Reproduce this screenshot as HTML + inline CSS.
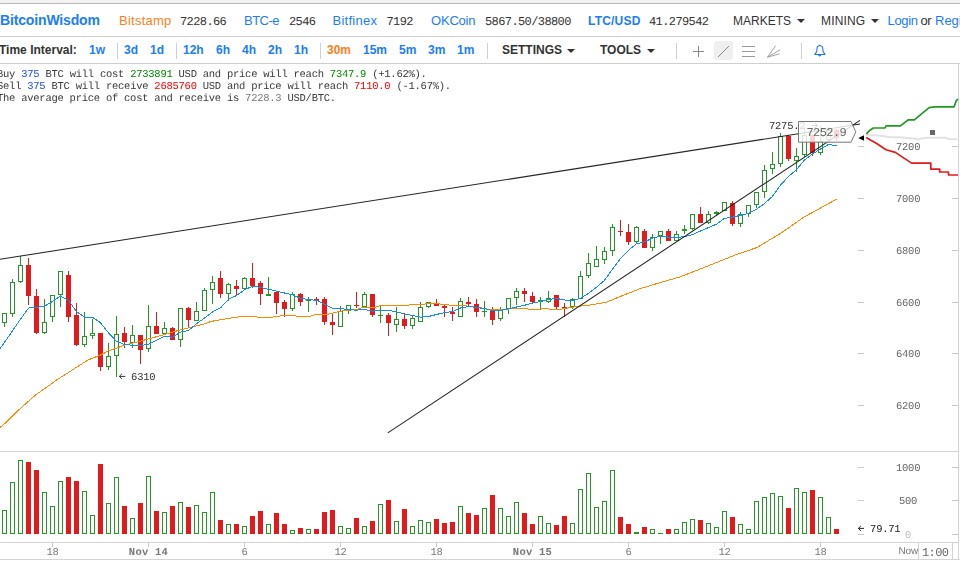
<!DOCTYPE html>
<html><head><meta charset="utf-8"><title>BitcoinWisdom</title>
<style>
html,body{margin:0;padding:0;background:#fff;}
body{width:960px;height:564px;overflow:hidden;position:relative;font-family:"Liberation Sans",sans-serif;}
.t{position:absolute;white-space:nowrap;line-height:1;}
.s13{font-size:13px;}
.s12{font-size:12px;}
.b{font-weight:bold;}
.bl{color:#1a7cff;}
.or{color:#ff7f1a;}
.dk{color:#333;}
.m{font-family:"Liberation Mono",monospace;}
.m11{font-family:"Liberation Mono",monospace;font-size:12px;letter-spacing:-0.6px;color:#333;text-rendering:geometricPrecision;}
.m10{font-family:"Liberation Mono",monospace;font-size:10.5px;letter-spacing:-0.25px;text-rendering:geometricPrecision;}
.sep{position:absolute;width:1px;background:#d0d0d0;top:43px;height:16px;}
.caret{position:absolute;width:0;height:0;border-left:4px solid transparent;border-right:4px solid transparent;border-top:4px solid #333;}
.hl{position:absolute;left:0;width:960px;height:1px;}
</style></head><body>
<div style="position:absolute;left:0;top:0;width:960px;height:3px;background:#f2f2f2"></div>
<div class="hl" style="top:3px;background:#b9b9b9"></div>
<div class="hl" style="top:36px;background:#cfcfcf"></div>
<div class="hl" style="top:63px;background:#cfcfcf"></div>

<!-- header row 1 -->
<span class="t b bl" style="left:0px;top:13px;font-size:14px;letter-spacing:-0.15px;">BitcoinWisdom</span>
<span class="t s13 or" style="left:119px;top:14px;letter-spacing:0.25px;">Bitstamp</span>
<span class="t m11" style="left:180px;top:16px;">7228.66</span>
<span class="t s13 bl" style="left:244px;top:14px;letter-spacing:-0.5px;">BTC-e</span>
<span class="t m11" style="left:289px;top:16px;">2546</span>
<span class="t s13 bl" style="left:332.5px;top:14px;letter-spacing:0.25px;">Bitfinex</span>
<span class="t m11" style="left:386.5px;top:16px;">7192</span>
<span class="t s13 bl" style="left:431px;top:14px;letter-spacing:-0.2px;">OKCoin</span>
<span class="t m11" style="left:485px;top:16px;">5867.50/38800</span>
<span class="t s12 b bl" style="left:588px;top:15px;letter-spacing:0.2px;">LTC/USD</span>
<span class="t m11" style="left:649px;top:16px;">41.279542</span>
<span class="t s12 dk" style="left:733px;top:15px;">MARKETS</span>
<div class="caret" style="left:796.7px;top:19px;"></div>
<span class="t s12 dk" style="left:821px;top:15px;letter-spacing:0.15px;">MINING</span>
<div class="caret" style="left:870.8px;top:19px;"></div>
<span class="t s13 bl" style="left:887.5px;top:14px;letter-spacing:-0.35px;">Login</span>
<span class="t s13 dk" style="left:920.5px;top:14px;letter-spacing:-0.5px;">or</span>
<span class="t s13 bl" style="left:935px;top:14px;">Register</span>

<!-- header row 2 -->
<span class="t s12 b dk" style="left:-1px;top:44px;">Time Interval:</span>
<span class="t s12 b bl" style="left:89px;top:44px;">1w</span>
<div class="sep" style="left:117px;"></div>
<span class="t s12 b bl" style="left:124px;top:44px;">3d</span>
<span class="t s12 b bl" style="left:150px;top:44px;">1d</span>
<div class="sep" style="left:176px;"></div>
<span class="t s12 b bl" style="left:183px;top:44px;">12h</span>
<span class="t s12 b bl" style="left:216px;top:44px;">6h</span>
<span class="t s12 b bl" style="left:242px;top:44px;">4h</span>
<span class="t s12 b bl" style="left:268px;top:44px;">2h</span>
<span class="t s12 b bl" style="left:294px;top:44px;">1h</span>
<div class="sep" style="left:320px;"></div>
<span class="t s12 b or" style="left:327px;top:44px;">30m</span>
<span class="t s12 b bl" style="left:363px;top:44px;">15m</span>
<span class="t s12 b bl" style="left:399px;top:44px;">5m</span>
<span class="t s12 b bl" style="left:428px;top:44px;">3m</span>
<span class="t s12 b bl" style="left:457px;top:44px;">1m</span>
<div class="sep" style="left:487px;"></div>
<span class="t s12 b dk" style="left:502px;top:44px;">SETTINGS</span>
<div class="caret" style="left:566.7px;top:49px;"></div>
<span class="t s12 b dk" style="left:600px;top:44px;">TOOLS</span>
<div class="caret" style="left:646.7px;top:49px;"></div>
<div class="sep" style="left:676px;"></div>
<div style="position:absolute;left:714px;top:41px;width:19px;height:19px;background:#efefef;border-radius:3px;"></div>
<svg width="120" height="24" viewBox="690 40 120 24" style="position:absolute;left:690px;top:40px;" fill="none" stroke="#888" stroke-width="1">
<path d="M698.5 46V57M693 51.5H704"/>
<path d="M718 57L729 46"/>
<path d="M742 46.5H755M742 51.5H755M742 56.5H755" stroke="#999"/>
<path d="M767.5 57.2L775.8 45.5M767.5 57.2L780.2 49.8M767.5 57.2L779.5 53.8" stroke="#999" stroke-width="0.9"/>
</svg>
<div class="sep" style="left:801px;"></div>
<svg width="16" height="18" viewBox="812 42 16 18" style="position:absolute;left:812px;top:42px;" fill="none" stroke="#1f6fff" stroke-width="1.05" stroke-linejoin="round">
<path d="M814.8 54.4L816.7 51.6L817.1 47.6Q817.3 46.2 819 45.8L819.7 45.1L820.4 45.8Q822.5 46.2 822.7 47.6L823.1 51.6L825 54.4Z"/>
<path d="M818.3 55.2Q819.7 57.4 821.1 55.2Z" fill="#1f6fff" stroke-width="0.6"/>
</svg>
<svg width="960" height="564" viewBox="0 0 960 564" style="position:absolute;left:0;top:0">
<g stroke="#d4d4d4" stroke-width="1" fill="none">
<path d="M0 451.5H958"/>
<path d="M0 542.5H958"/>
<path d="M0 559.5H960"/>
<path d="M958.5 64V560"/>
<path d="M918.5 542.5V559.5M952.5 542.5V559.5"/>
</g>
<g stroke="#c8c8c8" stroke-width="1">
<path d="M858 146.5H864M952 146.5H958"/>
<path d="M858 198.5H864M952 198.5H958"/>
<path d="M858 250.5H864M952 250.5H958"/>
<path d="M858 302.5H864M952 302.5H958"/>
<path d="M858 353.5H864M952 353.5H958"/>
<path d="M858 405.5H864M952 405.5H958"/>
<path d="M858 467.5H864M952 467.5H958"/>
<path d="M858 500.5H864M952 500.5H958"/>
<path d="M858 534.5H864M952 534.5H958"/>
<path d="M52.5 543V547"/>
<path d="M148.5 543V547"/>
<path d="M244.5 543V547"/>
<path d="M340.5 543V547"/>
<path d="M436.5 543V547"/>
<path d="M532.5 543V547"/>
<path d="M628.5 543V547"/>
<path d="M724.5 543V547"/>
<path d="M820.5 543V547"/>
</g>
<g shape-rendering="crispEdges">
<rect x="2" y="510" width="5" height="24" fill="#229922"/><rect x="3" y="511" width="3" height="22" fill="#fff"/>
<rect x="10" y="482" width="5" height="52" fill="#229922"/><rect x="11" y="483" width="3" height="50" fill="#fff"/>
<rect x="18" y="460" width="5" height="74" fill="#229922"/><rect x="19" y="461" width="3" height="72" fill="#fff"/>
<rect x="26" y="462" width="5" height="72" fill="#e21a1c"/>
<rect x="34" y="470" width="5" height="64" fill="#e21a1c"/>
<rect x="42" y="492" width="5" height="42" fill="#229922"/><rect x="43" y="493" width="3" height="40" fill="#fff"/>
<rect x="50" y="506" width="5" height="28" fill="#229922"/><rect x="51" y="507" width="3" height="26" fill="#fff"/>
<rect x="58" y="481" width="5" height="53" fill="#229922"/><rect x="59" y="482" width="3" height="51" fill="#fff"/>
<rect x="66" y="477" width="5" height="57" fill="#e21a1c"/>
<rect x="74" y="481" width="5" height="53" fill="#e21a1c"/>
<rect x="82" y="491" width="5" height="43" fill="#229922"/><rect x="83" y="492" width="3" height="41" fill="#fff"/>
<rect x="90" y="515" width="5" height="19" fill="#229922"/><rect x="91" y="516" width="3" height="17" fill="#fff"/>
<rect x="98" y="464" width="5" height="70" fill="#e21a1c"/>
<rect x="106" y="503" width="5" height="31" fill="#229922"/><rect x="107" y="504" width="3" height="29" fill="#fff"/>
<rect x="114" y="477" width="5" height="57" fill="#229922"/><rect x="115" y="478" width="3" height="55" fill="#fff"/>
<rect x="122" y="506" width="5" height="28" fill="#e21a1c"/>
<rect x="130" y="518" width="5" height="16" fill="#229922"/><rect x="131" y="519" width="3" height="14" fill="#fff"/>
<rect x="138" y="503" width="5" height="31" fill="#e21a1c"/>
<rect x="146" y="476" width="5" height="58" fill="#229922"/><rect x="147" y="477" width="3" height="56" fill="#fff"/>
<rect x="154" y="511" width="5" height="23" fill="#e21a1c"/>
<rect x="162" y="512" width="5" height="22" fill="#229922"/><rect x="163" y="513" width="3" height="20" fill="#fff"/>
<rect x="170" y="506" width="5" height="28" fill="#e21a1c"/>
<rect x="178" y="502" width="5" height="32" fill="#229922"/><rect x="179" y="503" width="3" height="30" fill="#fff"/>
<rect x="186" y="507" width="5" height="27" fill="#e21a1c"/>
<rect x="194" y="505" width="5" height="29" fill="#229922"/><rect x="195" y="506" width="3" height="27" fill="#fff"/>
<rect x="202" y="512" width="5" height="22" fill="#229922"/><rect x="203" y="513" width="3" height="20" fill="#fff"/>
<rect x="210" y="492" width="5" height="42" fill="#229922"/><rect x="211" y="493" width="3" height="40" fill="#fff"/>
<rect x="218" y="520" width="5" height="14" fill="#e21a1c"/>
<rect x="226" y="524" width="5" height="10" fill="#229922"/><rect x="227" y="525" width="3" height="8" fill="#fff"/>
<rect x="234" y="524" width="5" height="10" fill="#e21a1c"/>
<rect x="242" y="526" width="5" height="8" fill="#229922"/><rect x="243" y="527" width="3" height="6" fill="#fff"/>
<rect x="250" y="516" width="5" height="18" fill="#e21a1c"/>
<rect x="258" y="511" width="5" height="23" fill="#e21a1c"/>
<rect x="266" y="524" width="5" height="10" fill="#229922"/><rect x="267" y="525" width="3" height="8" fill="#fff"/>
<rect x="274" y="513" width="5" height="21" fill="#e21a1c"/>
<rect x="282" y="524" width="5" height="10" fill="#e21a1c"/>
<rect x="290" y="530" width="5" height="4" fill="#229922"/><rect x="291" y="531" width="3" height="2" fill="#fff"/>
<rect x="298" y="528" width="5" height="6" fill="#e21a1c"/>
<rect x="306" y="529" width="5" height="5" fill="#229922"/><rect x="307" y="530" width="3" height="3" fill="#fff"/>
<rect x="314" y="529" width="5" height="5" fill="#e21a1c"/>
<rect x="322" y="512" width="5" height="22" fill="#e21a1c"/>
<rect x="330" y="510" width="5" height="24" fill="#e21a1c"/>
<rect x="338" y="526" width="5" height="8" fill="#229922"/><rect x="339" y="527" width="3" height="6" fill="#fff"/>
<rect x="346" y="528" width="5" height="6" fill="#229922"/><rect x="347" y="529" width="3" height="4" fill="#fff"/>
<rect x="354" y="518" width="5" height="16" fill="#e21a1c"/>
<rect x="362" y="526" width="5" height="8" fill="#229922"/><rect x="363" y="527" width="3" height="6" fill="#fff"/>
<rect x="370" y="521" width="5" height="13" fill="#e21a1c"/>
<rect x="378" y="504" width="5" height="30" fill="#229922"/><rect x="379" y="505" width="3" height="28" fill="#fff"/>
<rect x="386" y="500" width="5" height="34" fill="#e21a1c"/>
<rect x="394" y="521" width="5" height="13" fill="#229922"/><rect x="395" y="522" width="3" height="11" fill="#fff"/>
<rect x="402" y="509" width="5" height="25" fill="#e21a1c"/>
<rect x="410" y="526" width="5" height="8" fill="#229922"/><rect x="411" y="527" width="3" height="6" fill="#fff"/>
<rect x="418" y="520" width="5" height="14" fill="#229922"/><rect x="419" y="521" width="3" height="12" fill="#fff"/>
<rect x="426" y="522" width="5" height="12" fill="#229922"/><rect x="427" y="523" width="3" height="10" fill="#fff"/>
<rect x="434" y="519" width="5" height="15" fill="#e21a1c"/>
<rect x="442" y="523" width="5" height="11" fill="#e21a1c"/>
<rect x="450" y="522" width="5" height="12" fill="#e21a1c"/>
<rect x="458" y="506" width="5" height="28" fill="#229922"/><rect x="459" y="507" width="3" height="26" fill="#fff"/>
<rect x="466" y="513" width="5" height="21" fill="#e21a1c"/>
<rect x="474" y="515" width="5" height="19" fill="#e21a1c"/>
<rect x="482" y="508" width="5" height="26" fill="#229922"/><rect x="483" y="509" width="3" height="24" fill="#fff"/>
<rect x="490" y="495" width="5" height="39" fill="#e21a1c"/>
<rect x="498" y="508" width="5" height="26" fill="#229922"/><rect x="499" y="509" width="3" height="24" fill="#fff"/>
<rect x="506" y="516" width="5" height="18" fill="#229922"/><rect x="507" y="517" width="3" height="16" fill="#fff"/>
<rect x="514" y="502" width="5" height="32" fill="#229922"/><rect x="515" y="503" width="3" height="30" fill="#fff"/>
<rect x="522" y="513" width="5" height="21" fill="#e21a1c"/>
<rect x="530" y="524" width="5" height="10" fill="#e21a1c"/>
<rect x="538" y="516" width="5" height="18" fill="#229922"/><rect x="539" y="517" width="3" height="16" fill="#fff"/>
<rect x="546" y="523" width="5" height="11" fill="#229922"/><rect x="547" y="524" width="3" height="9" fill="#fff"/>
<rect x="554" y="525" width="5" height="9" fill="#e21a1c"/>
<rect x="562" y="516" width="5" height="18" fill="#e21a1c"/>
<rect x="570" y="523" width="5" height="11" fill="#229922"/><rect x="571" y="524" width="3" height="9" fill="#fff"/>
<rect x="578" y="489" width="5" height="45" fill="#229922"/><rect x="579" y="490" width="3" height="43" fill="#fff"/>
<rect x="586" y="473" width="5" height="61" fill="#229922"/><rect x="587" y="474" width="3" height="59" fill="#fff"/>
<rect x="594" y="507" width="5" height="27" fill="#229922"/><rect x="595" y="508" width="3" height="25" fill="#fff"/>
<rect x="602" y="501" width="5" height="33" fill="#229922"/><rect x="603" y="502" width="3" height="31" fill="#fff"/>
<rect x="610" y="470" width="5" height="64" fill="#229922"/><rect x="611" y="471" width="3" height="62" fill="#fff"/>
<rect x="618" y="517" width="5" height="17" fill="#e21a1c"/>
<rect x="626" y="524" width="5" height="10" fill="#e21a1c"/>
<rect x="634" y="532" width="5" height="2" fill="#229922"/>
<rect x="642" y="527" width="5" height="7" fill="#e21a1c"/>
<rect x="650" y="529" width="5" height="5" fill="#229922"/><rect x="651" y="530" width="3" height="3" fill="#fff"/>
<rect x="658" y="533" width="5" height="1" fill="#229922"/>
<rect x="666" y="529" width="5" height="5" fill="#e21a1c"/>
<rect x="674" y="529" width="5" height="5" fill="#229922"/><rect x="675" y="530" width="3" height="3" fill="#fff"/>
<rect x="682" y="522" width="5" height="12" fill="#229922"/><rect x="683" y="523" width="3" height="10" fill="#fff"/>
<rect x="690" y="519" width="5" height="15" fill="#229922"/><rect x="691" y="520" width="3" height="13" fill="#fff"/>
<rect x="698" y="520" width="5" height="14" fill="#e21a1c"/>
<rect x="706" y="523" width="5" height="11" fill="#229922"/><rect x="707" y="524" width="3" height="9" fill="#fff"/>
<rect x="714" y="527" width="5" height="7" fill="#229922"/><rect x="715" y="528" width="3" height="5" fill="#fff"/>
<rect x="722" y="511" width="5" height="23" fill="#229922"/><rect x="723" y="512" width="3" height="21" fill="#fff"/>
<rect x="730" y="517" width="5" height="17" fill="#e21a1c"/>
<rect x="738" y="524" width="5" height="10" fill="#229922"/><rect x="739" y="525" width="3" height="8" fill="#fff"/>
<rect x="746" y="529" width="5" height="5" fill="#229922"/><rect x="747" y="530" width="3" height="3" fill="#fff"/>
<rect x="754" y="501" width="5" height="33" fill="#229922"/><rect x="755" y="502" width="3" height="31" fill="#fff"/>
<rect x="762" y="497" width="5" height="37" fill="#229922"/><rect x="763" y="498" width="3" height="35" fill="#fff"/>
<rect x="770" y="493" width="5" height="41" fill="#229922"/><rect x="771" y="494" width="3" height="39" fill="#fff"/>
<rect x="778" y="496" width="5" height="38" fill="#229922"/><rect x="779" y="497" width="3" height="36" fill="#fff"/>
<rect x="786" y="508" width="5" height="26" fill="#e21a1c"/>
<rect x="794" y="488" width="5" height="46" fill="#229922"/><rect x="795" y="489" width="3" height="44" fill="#fff"/>
<rect x="802" y="492" width="5" height="42" fill="#229922"/><rect x="803" y="493" width="3" height="40" fill="#fff"/>
<rect x="810" y="490" width="5" height="44" fill="#e21a1c"/>
<rect x="818" y="497" width="5" height="37" fill="#229922"/><rect x="819" y="498" width="3" height="35" fill="#fff"/>
<rect x="826" y="517" width="5" height="17" fill="#229922"/><rect x="827" y="518" width="3" height="15" fill="#fff"/>
<rect x="834" y="529" width="5" height="5" fill="#e21a1c"/>
</g>
<g shape-rendering="crispEdges">
<rect x="4" y="323" width="1" height="4" fill="#229922"/><rect x="2" y="313" width="5" height="10" fill="#229922"/><rect x="3" y="314" width="3" height="8" fill="#fff"/>
<rect x="12" y="279" width="1" height="3" fill="#229922"/><rect x="12" y="314" width="1" height="3" fill="#229922"/><rect x="10" y="282" width="5" height="32" fill="#229922"/><rect x="11" y="283" width="3" height="30" fill="#fff"/>
<rect x="20" y="256" width="1" height="9" fill="#229922"/><rect x="20" y="282" width="1" height="1" fill="#229922"/><rect x="18" y="265" width="5" height="17" fill="#229922"/><rect x="19" y="266" width="3" height="15" fill="#fff"/>
<rect x="28" y="258" width="1" height="47" fill="#e21a1c"/><rect x="26" y="265" width="5" height="31" fill="#e21a1c"/>
<rect x="36" y="289" width="1" height="45" fill="#e21a1c"/><rect x="34" y="296" width="5" height="37" fill="#e21a1c"/>
<rect x="44" y="299" width="1" height="23" fill="#229922"/><rect x="44" y="333" width="1" height="1" fill="#229922"/><rect x="42" y="322" width="5" height="11" fill="#229922"/><rect x="43" y="323" width="3" height="9" fill="#fff"/>
<rect x="52" y="317" width="1" height="5" fill="#229922"/><rect x="50" y="295" width="5" height="22" fill="#229922"/><rect x="51" y="296" width="3" height="20" fill="#fff"/>
<rect x="60" y="295" width="1" height="12" fill="#229922"/><rect x="58" y="271" width="5" height="24" fill="#229922"/><rect x="59" y="272" width="3" height="22" fill="#fff"/>
<rect x="68" y="271" width="1" height="51" fill="#e21a1c"/><rect x="66" y="275" width="5" height="42" fill="#e21a1c"/>
<rect x="76" y="303" width="1" height="43" fill="#e21a1c"/><rect x="74" y="315" width="5" height="30" fill="#e21a1c"/>
<rect x="84" y="312" width="1" height="24" fill="#229922"/><rect x="84" y="345" width="1" height="2" fill="#229922"/><rect x="82" y="336" width="5" height="9" fill="#229922"/><rect x="83" y="337" width="3" height="7" fill="#fff"/>
<rect x="92" y="319" width="1" height="14" fill="#229922"/><rect x="92" y="336" width="1" height="3" fill="#229922"/><rect x="90" y="333" width="5" height="3" fill="#229922"/><rect x="91" y="334" width="3" height="1" fill="#fff"/>
<rect x="100" y="333" width="1" height="38" fill="#e21a1c"/><rect x="98" y="333" width="5" height="34" fill="#e21a1c"/>
<rect x="108" y="343" width="1" height="13" fill="#229922"/><rect x="108" y="367" width="1" height="3" fill="#229922"/><rect x="106" y="356" width="5" height="11" fill="#229922"/><rect x="107" y="357" width="3" height="9" fill="#fff"/>
<rect x="116" y="316" width="1" height="18" fill="#229922"/><rect x="116" y="356" width="1" height="21" fill="#229922"/><rect x="114" y="334" width="5" height="22" fill="#229922"/><rect x="115" y="335" width="3" height="20" fill="#fff"/>
<rect x="124" y="327" width="1" height="21" fill="#e21a1c"/><rect x="122" y="333" width="5" height="9" fill="#e21a1c"/>
<rect x="132" y="325" width="1" height="10" fill="#229922"/><rect x="132" y="343" width="1" height="5" fill="#229922"/><rect x="130" y="335" width="5" height="8" fill="#229922"/><rect x="131" y="336" width="3" height="6" fill="#fff"/>
<rect x="140" y="335" width="1" height="29" fill="#e21a1c"/><rect x="138" y="335" width="5" height="15" fill="#e21a1c"/>
<rect x="148" y="305" width="1" height="21" fill="#229922"/><rect x="148" y="349" width="1" height="3" fill="#229922"/><rect x="146" y="326" width="5" height="23" fill="#229922"/><rect x="147" y="327" width="3" height="21" fill="#fff"/>
<rect x="156" y="312" width="1" height="22" fill="#e21a1c"/><rect x="154" y="326" width="5" height="8" fill="#e21a1c"/>
<rect x="164" y="322" width="1" height="6" fill="#229922"/><rect x="162" y="328" width="5" height="6" fill="#229922"/><rect x="163" y="329" width="3" height="4" fill="#fff"/>
<rect x="172" y="327" width="1" height="13" fill="#e21a1c"/><rect x="170" y="328" width="5" height="12" fill="#e21a1c"/>
<rect x="180" y="340" width="1" height="7" fill="#229922"/><rect x="178" y="308" width="5" height="32" fill="#229922"/><rect x="179" y="309" width="3" height="30" fill="#fff"/>
<rect x="188" y="307" width="1" height="21" fill="#e21a1c"/><rect x="186" y="308" width="5" height="12" fill="#e21a1c"/>
<rect x="196" y="302" width="1" height="9" fill="#229922"/><rect x="194" y="311" width="5" height="10" fill="#229922"/><rect x="195" y="312" width="3" height="8" fill="#fff"/>
<rect x="204" y="288" width="1" height="2" fill="#229922"/><rect x="202" y="290" width="5" height="21" fill="#229922"/><rect x="203" y="291" width="3" height="19" fill="#fff"/>
<rect x="212" y="276" width="1" height="6" fill="#229922"/><rect x="212" y="290" width="1" height="14" fill="#229922"/><rect x="210" y="282" width="5" height="8" fill="#229922"/><rect x="211" y="283" width="3" height="6" fill="#fff"/>
<rect x="220" y="271" width="1" height="27" fill="#e21a1c"/><rect x="218" y="278" width="5" height="16" fill="#e21a1c"/>
<rect x="228" y="283" width="1" height="1" fill="#229922"/><rect x="228" y="294" width="1" height="7" fill="#229922"/><rect x="226" y="284" width="5" height="10" fill="#229922"/><rect x="227" y="285" width="3" height="8" fill="#fff"/>
<rect x="236" y="280" width="1" height="15" fill="#e21a1c"/><rect x="234" y="286" width="5" height="3" fill="#e21a1c"/>
<rect x="244" y="277" width="1" height="1" fill="#229922"/><rect x="244" y="289" width="1" height="1" fill="#229922"/><rect x="242" y="278" width="5" height="11" fill="#229922"/><rect x="243" y="279" width="3" height="9" fill="#fff"/>
<rect x="252" y="263" width="1" height="25" fill="#e21a1c"/><rect x="250" y="278" width="5" height="8" fill="#e21a1c"/>
<rect x="260" y="281" width="1" height="24" fill="#e21a1c"/><rect x="258" y="283" width="5" height="11" fill="#e21a1c"/>
<rect x="268" y="277" width="1" height="17" fill="#229922"/><rect x="266" y="294" width="5" height="2" fill="#229922"/>
<rect x="276" y="292" width="1" height="22" fill="#e21a1c"/><rect x="274" y="292" width="5" height="11" fill="#e21a1c"/>
<rect x="284" y="300" width="1" height="17" fill="#e21a1c"/><rect x="282" y="302" width="5" height="7" fill="#e21a1c"/>
<rect x="292" y="292" width="1" height="2" fill="#229922"/><rect x="292" y="309" width="1" height="2" fill="#229922"/><rect x="290" y="294" width="5" height="15" fill="#229922"/><rect x="291" y="295" width="3" height="13" fill="#fff"/>
<rect x="300" y="293" width="1" height="13" fill="#e21a1c"/><rect x="298" y="294" width="5" height="8" fill="#e21a1c"/>
<rect x="308" y="297" width="1" height="2" fill="#229922"/><rect x="308" y="301" width="1" height="11" fill="#229922"/><rect x="306" y="299" width="5" height="2" fill="#229922"/>
<rect x="316" y="297" width="1" height="8" fill="#e21a1c"/><rect x="314" y="299" width="5" height="2" fill="#e21a1c"/>
<rect x="324" y="297" width="1" height="28" fill="#e21a1c"/><rect x="322" y="299" width="5" height="23" fill="#e21a1c"/>
<rect x="332" y="314" width="1" height="21" fill="#e21a1c"/><rect x="330" y="322" width="5" height="3" fill="#e21a1c"/>
<rect x="340" y="306" width="1" height="5" fill="#229922"/><rect x="338" y="311" width="5" height="16" fill="#229922"/><rect x="339" y="312" width="3" height="14" fill="#fff"/>
<rect x="348" y="311" width="1" height="3" fill="#229922"/><rect x="346" y="305" width="5" height="6" fill="#229922"/><rect x="347" y="306" width="3" height="4" fill="#fff"/>
<rect x="356" y="292" width="1" height="16" fill="#e21a1c"/><rect x="354" y="305" width="5" height="1" fill="#e21a1c"/>
<rect x="364" y="292" width="1" height="2" fill="#229922"/><rect x="362" y="294" width="5" height="13" fill="#229922"/><rect x="363" y="295" width="3" height="11" fill="#fff"/>
<rect x="372" y="294" width="1" height="23" fill="#e21a1c"/><rect x="370" y="294" width="5" height="21" fill="#e21a1c"/>
<rect x="380" y="306" width="1" height="9" fill="#229922"/><rect x="380" y="316" width="1" height="7" fill="#229922"/><rect x="378" y="315" width="5" height="1" fill="#229922"/>
<rect x="388" y="313" width="1" height="23" fill="#e21a1c"/><rect x="386" y="315" width="5" height="8" fill="#e21a1c"/>
<rect x="396" y="307" width="1" height="12" fill="#229922"/><rect x="396" y="325" width="1" height="7" fill="#229922"/><rect x="394" y="319" width="5" height="6" fill="#229922"/><rect x="395" y="320" width="3" height="4" fill="#fff"/>
<rect x="404" y="313" width="1" height="16" fill="#e21a1c"/><rect x="402" y="319" width="5" height="7" fill="#e21a1c"/>
<rect x="412" y="316" width="1" height="2" fill="#229922"/><rect x="412" y="326" width="1" height="3" fill="#229922"/><rect x="410" y="318" width="5" height="8" fill="#229922"/><rect x="411" y="319" width="3" height="6" fill="#fff"/>
<rect x="420" y="302" width="1" height="5" fill="#229922"/><rect x="418" y="307" width="5" height="15" fill="#229922"/><rect x="419" y="308" width="3" height="13" fill="#fff"/>
<rect x="428" y="307" width="1" height="1" fill="#229922"/><rect x="426" y="302" width="5" height="5" fill="#229922"/><rect x="427" y="303" width="3" height="3" fill="#fff"/>
<rect x="436" y="299" width="1" height="7" fill="#e21a1c"/><rect x="434" y="304" width="5" height="2" fill="#e21a1c"/>
<rect x="444" y="304" width="1" height="13" fill="#e21a1c"/><rect x="442" y="306" width="5" height="2" fill="#e21a1c"/>
<rect x="452" y="307" width="1" height="14" fill="#e21a1c"/><rect x="450" y="312" width="5" height="2" fill="#e21a1c"/>
<rect x="460" y="298" width="1" height="3" fill="#229922"/><rect x="458" y="301" width="5" height="16" fill="#229922"/><rect x="459" y="302" width="3" height="14" fill="#fff"/>
<rect x="468" y="297" width="1" height="9" fill="#e21a1c"/><rect x="466" y="302" width="5" height="2" fill="#e21a1c"/>
<rect x="476" y="299" width="1" height="18" fill="#e21a1c"/><rect x="474" y="304" width="5" height="8" fill="#e21a1c"/>
<rect x="484" y="301" width="1" height="10" fill="#229922"/><rect x="484" y="312" width="1" height="5" fill="#229922"/><rect x="482" y="311" width="5" height="1" fill="#229922"/>
<rect x="492" y="307" width="1" height="18" fill="#e21a1c"/><rect x="490" y="310" width="5" height="10" fill="#e21a1c"/>
<rect x="500" y="307" width="1" height="3" fill="#229922"/><rect x="500" y="319" width="1" height="2" fill="#229922"/><rect x="498" y="310" width="5" height="9" fill="#229922"/><rect x="499" y="311" width="3" height="7" fill="#fff"/>
<rect x="508" y="309" width="1" height="5" fill="#229922"/><rect x="506" y="298" width="5" height="11" fill="#229922"/><rect x="507" y="299" width="3" height="9" fill="#fff"/>
<rect x="516" y="288" width="1" height="3" fill="#229922"/><rect x="516" y="298" width="1" height="7" fill="#229922"/><rect x="514" y="291" width="5" height="7" fill="#229922"/><rect x="515" y="292" width="3" height="5" fill="#fff"/>
<rect x="524" y="288" width="1" height="14" fill="#e21a1c"/><rect x="522" y="291" width="5" height="3" fill="#e21a1c"/>
<rect x="532" y="292" width="1" height="11" fill="#e21a1c"/><rect x="530" y="296" width="5" height="6" fill="#e21a1c"/>
<rect x="540" y="297" width="1" height="3" fill="#229922"/><rect x="540" y="302" width="1" height="8" fill="#229922"/><rect x="538" y="300" width="5" height="2" fill="#229922"/>
<rect x="548" y="291" width="1" height="7" fill="#229922"/><rect x="548" y="302" width="1" height="1" fill="#229922"/><rect x="546" y="298" width="5" height="4" fill="#229922"/><rect x="547" y="299" width="3" height="2" fill="#fff"/>
<rect x="556" y="295" width="1" height="14" fill="#e21a1c"/><rect x="554" y="295" width="5" height="12" fill="#e21a1c"/>
<rect x="564" y="303" width="1" height="14" fill="#e21a1c"/><rect x="562" y="307" width="5" height="1" fill="#e21a1c"/>
<rect x="572" y="298" width="1" height="1" fill="#229922"/><rect x="572" y="307" width="1" height="2" fill="#229922"/><rect x="570" y="299" width="5" height="8" fill="#229922"/><rect x="571" y="300" width="3" height="6" fill="#fff"/>
<rect x="580" y="271" width="1" height="5" fill="#229922"/><rect x="578" y="276" width="5" height="23" fill="#229922"/><rect x="579" y="277" width="3" height="21" fill="#fff"/>
<rect x="588" y="253" width="1" height="10" fill="#229922"/><rect x="588" y="276" width="1" height="2" fill="#229922"/><rect x="586" y="263" width="5" height="13" fill="#229922"/><rect x="587" y="264" width="3" height="11" fill="#fff"/>
<rect x="596" y="246" width="1" height="13" fill="#229922"/><rect x="594" y="259" width="5" height="8" fill="#229922"/><rect x="595" y="260" width="3" height="6" fill="#fff"/>
<rect x="604" y="247" width="1" height="4" fill="#229922"/><rect x="604" y="260" width="1" height="4" fill="#229922"/><rect x="602" y="251" width="5" height="9" fill="#229922"/><rect x="603" y="252" width="3" height="7" fill="#fff"/>
<rect x="612" y="224" width="1" height="3" fill="#229922"/><rect x="612" y="251" width="1" height="5" fill="#229922"/><rect x="610" y="227" width="5" height="24" fill="#229922"/><rect x="611" y="228" width="3" height="22" fill="#fff"/>
<rect x="620" y="220" width="1" height="16" fill="#e21a1c"/><rect x="618" y="231" width="5" height="1" fill="#e21a1c"/>
<rect x="628" y="224" width="1" height="21" fill="#e21a1c"/><rect x="626" y="232" width="5" height="10" fill="#e21a1c"/>
<rect x="636" y="226" width="1" height="1" fill="#229922"/><rect x="636" y="242" width="1" height="1" fill="#229922"/><rect x="634" y="227" width="5" height="15" fill="#229922"/><rect x="635" y="228" width="3" height="13" fill="#fff"/>
<rect x="644" y="229" width="1" height="19" fill="#e21a1c"/><rect x="642" y="231" width="5" height="17" fill="#e21a1c"/>
<rect x="652" y="234" width="1" height="3" fill="#229922"/><rect x="652" y="248" width="1" height="3" fill="#229922"/><rect x="650" y="237" width="5" height="11" fill="#229922"/><rect x="651" y="238" width="3" height="9" fill="#fff"/>
<rect x="660" y="236" width="1" height="8" fill="#229922"/><rect x="658" y="231" width="5" height="5" fill="#229922"/><rect x="659" y="232" width="3" height="3" fill="#fff"/>
<rect x="668" y="229" width="1" height="12" fill="#e21a1c"/><rect x="666" y="231" width="5" height="10" fill="#e21a1c"/>
<rect x="676" y="231" width="1" height="3" fill="#229922"/><rect x="674" y="234" width="5" height="7" fill="#229922"/><rect x="675" y="235" width="3" height="5" fill="#fff"/>
<rect x="684" y="225" width="1" height="4" fill="#229922"/><rect x="684" y="231" width="1" height="3" fill="#229922"/><rect x="682" y="229" width="5" height="2" fill="#229922"/>
<rect x="692" y="229" width="1" height="1" fill="#229922"/><rect x="690" y="214" width="5" height="15" fill="#229922"/><rect x="691" y="215" width="3" height="13" fill="#fff"/>
<rect x="700" y="207" width="1" height="16" fill="#e21a1c"/><rect x="698" y="214" width="5" height="9" fill="#e21a1c"/>
<rect x="708" y="211" width="1" height="3" fill="#229922"/><rect x="708" y="223" width="1" height="1" fill="#229922"/><rect x="706" y="214" width="5" height="9" fill="#229922"/><rect x="707" y="215" width="3" height="7" fill="#fff"/>
<rect x="716" y="211" width="1" height="1" fill="#229922"/><rect x="716" y="214" width="1" height="2" fill="#229922"/><rect x="714" y="212" width="5" height="2" fill="#229922"/>
<rect x="722" y="202" width="5" height="9" fill="#229922"/><rect x="723" y="203" width="3" height="7" fill="#fff"/>
<rect x="732" y="201" width="1" height="25" fill="#e21a1c"/><rect x="730" y="203" width="5" height="21" fill="#e21a1c"/>
<rect x="740" y="212" width="1" height="2" fill="#229922"/><rect x="740" y="224" width="1" height="3" fill="#229922"/><rect x="738" y="214" width="5" height="10" fill="#229922"/><rect x="739" y="215" width="3" height="8" fill="#fff"/>
<rect x="748" y="214" width="1" height="3" fill="#229922"/><rect x="746" y="205" width="5" height="9" fill="#229922"/><rect x="747" y="206" width="3" height="7" fill="#fff"/>
<rect x="756" y="205" width="1" height="3" fill="#229922"/><rect x="754" y="192" width="5" height="13" fill="#229922"/><rect x="755" y="193" width="3" height="11" fill="#fff"/>
<rect x="764" y="165" width="1" height="5" fill="#229922"/><rect x="764" y="192" width="1" height="6" fill="#229922"/><rect x="762" y="170" width="5" height="22" fill="#229922"/><rect x="763" y="171" width="3" height="20" fill="#fff"/>
<rect x="772" y="152" width="1" height="12" fill="#229922"/><rect x="772" y="169" width="1" height="5" fill="#229922"/><rect x="770" y="164" width="5" height="5" fill="#229922"/><rect x="771" y="165" width="3" height="3" fill="#fff"/>
<rect x="780" y="133" width="1" height="3" fill="#229922"/><rect x="780" y="164" width="1" height="3" fill="#229922"/><rect x="778" y="136" width="5" height="28" fill="#229922"/><rect x="779" y="137" width="3" height="26" fill="#fff"/>
<rect x="788" y="135" width="1" height="26" fill="#e21a1c"/><rect x="786" y="136" width="5" height="23" fill="#e21a1c"/>
<rect x="796" y="148" width="1" height="8" fill="#229922"/><rect x="796" y="161" width="1" height="11" fill="#229922"/><rect x="794" y="156" width="5" height="5" fill="#229922"/><rect x="795" y="157" width="3" height="3" fill="#fff"/>
<rect x="804" y="127" width="1" height="8" fill="#229922"/><rect x="804" y="155" width="1" height="2" fill="#229922"/><rect x="802" y="135" width="5" height="20" fill="#229922"/><rect x="803" y="136" width="3" height="18" fill="#fff"/>
<rect x="812" y="134" width="1" height="22" fill="#e21a1c"/><rect x="810" y="135" width="5" height="18" fill="#e21a1c"/>
<rect x="820" y="126" width="1" height="15" fill="#229922"/><rect x="820" y="153" width="1" height="2" fill="#229922"/><rect x="818" y="141" width="5" height="12" fill="#229922"/><rect x="819" y="142" width="3" height="10" fill="#fff"/>
<rect x="828" y="127" width="1" height="3" fill="#229922"/><rect x="828" y="140" width="1" height="1" fill="#229922"/><rect x="826" y="130" width="5" height="10" fill="#229922"/><rect x="827" y="131" width="3" height="8" fill="#fff"/>
<rect x="836" y="129" width="1" height="12" fill="#e21a1c"/><rect x="834" y="130" width="5" height="8" fill="#e21a1c"/>
</g>
<path d="M0 427.4 L7.1 421.6 L17.7 410.9 L35.5 395 L53.2 382.6 L57.5 379.4 L70.9 371 L75 368.1 L88.7 359.7 L100 355.25 L108.75 350.8 L118.75 347.25 L124.1 345.3 L140 341.25 L165 334.4 L180 330 L195 326.25 L203.75 324.1 L211.25 321.4 L226.25 318.75 L241.25 316.5 L255 316.5 L257.5 317.25 L272.5 317.1 L282.5 315.6 L295 315.6 L297.5 316.5 L310 316.5 L315 314.75 L327.5 314.4 L340 311.25 L360 308.75 L362.5 307.25 L375 307.25 L380 305.6 L407.5 305.6 L410 304.5 L423.75 304.6 L426.25 303.4 L438.75 303.4 L441.25 304.4 L447.5 304.4 L450 305.4 L462.5 305.4 L472.5 306.9 L480 307.5 L488.75 309.4 L507.5 309.4 L511.25 308.5 L526.25 308.5 L530 309.4 L536.25 309.4 L545 308.5 L552.5 309.4 L560 309.4 L567.5 308.1 L576.25 306.6 L590 305 L606.25 302.25 L622.5 295.6 L640 288.75 L661.2 282.3 L679.6 277.1 L711.7 264.5 L734.6 255.3 L757.5 247.3 L770 239.6 L780.4 233.5 L790 226.9 L803.3 217.5 L836.5 199.2" fill="none" stroke="#ff8800" stroke-width="1" stroke-linejoin="round" shape-rendering="crispEdges"/>
<path d="M0 348.75 L4.5 342.3 L12.5 330.8 L20.5 319.2 L28.5 308.1 L36.5 307.3 L44.5 306.2 L52.5 301.5 L60.5 296 L68.5 300.4 L76.5 311.5 L84.5 317.2 L92.5 317.3 L100.5 322.8 L108.5 332.8 L116.5 341.3 L124.5 344.6 L132.5 345.2 L140.5 345.6 L148.5 344.3 L156.5 340.2 L164.5 336.3 L172.5 337.2 L180.5 332.2 L188.5 330.4 L196.5 323.8 L204.5 318 L212.5 311.9 L220.5 307.9 L228.5 299.2 L236.5 295.6 L244.5 289.7 L252.5 286.3 L260.5 287.4 L268.5 289.3 L276.5 291.1 L284.5 293 L292.5 294.75 L300.5 298.4 L308.5 299.4 L316.5 300.4 L324.5 304.3 L332.5 308.4 L340.5 308.4 L348.5 309.8 L356.5 310.1 L364.5 309.5 L372.5 311.2 L380.5 310.25 L388.5 310.25 L396.5 311.8 L404.5 314.1 L412.5 315.4 L420.5 317.2 L428.5 316.5 L436.5 314.5 L444.5 312.6 L452.5 311.5 L460.5 308 L468.5 306.5 L476.5 307.4 L484.5 308.6 L492.5 310.6 L500.5 310.3 L508.5 308.8 L516.5 307 L524.5 305.3 L532.5 303.1 L540.5 301.5 L548.5 299.4 L556.5 298.4 L564.5 300 L572.5 300.7 L580.5 298.3 L588.5 293.3 L596.5 287.2 L604.5 280.4 L612.5 269.2 L620.5 258.6 L628.5 250.2 L636.5 243.8 L644.5 241.9 L652.5 238.1 L660.5 236.3 L668.5 237.1 L676.5 237.3 L684.5 236.8 L692.5 234.6 L700.5 231 L708.5 227.6 L716.5 224.2 L724.5 218.4 L732.5 217.25 L740.5 215.25 L748.5 213.4 L756.5 209.3 L764.5 203.5 L772.5 196.3 L780.5 185.2 L788.5 176.5 L796.5 169.7 L804.5 160 L812.5 153.9 L820.5 149.1 L828.5 144.4 L831 144.4 L833 145.4 L837 145.4" fill="none" stroke="#1090e8" stroke-width="1" stroke-linejoin="round" shape-rendering="crispEdges"/>
<path d="M0 259.3L860 124" stroke="#262626" stroke-width="1.05"/>
<path d="M387.8 432.9L860 120.4" stroke="#222" stroke-width="1.05"/>
<path d="M866.25 135.3 L878.75 135.4 L889.2 137.1 L901.7 137.5 L918.3 138.9 L926.7 137.8 L945.4 137.8 L948.5 138.9 L957 139.2" fill="none" stroke="#e2e2e2" stroke-width="2" stroke-linejoin="round"/>
<path d="M866.4 134.1 L869 131 L873.3 128 L885 128 L886 125.9 L900.4 125.9 L908.4 119.8 L914.3 119.8 L929.1 107.6 L934.5 106.8 L954.1 106.8 L956.3 100.6 L958 99" fill="none" stroke="#229922" stroke-width="1.7" stroke-linejoin="round"/>
<path d="M866.25 137.5 L870.4 139.9 L876.7 143.5 L886 149.8 L895.4 152.4 L901.7 156.6 L911.6 163.1 L930.8 163.1 L930.8 169.1 L939.7 169.1 L939.7 172 L948.5 172 L948.5 175 L958 175" fill="none" stroke="#e21a1c" stroke-width="1.7" stroke-linejoin="round"/>
<rect x="930" y="130" width="5" height="5" fill="#666"/>
<path d="M858.3 138L864 135.2V140.8Z" fill="#000"/>
<path d="M125.3 376.4H119.3M121.9 373.9L119.3 376.4L121.9 378.9" stroke="#333" stroke-width="1" fill="none"/>
<path d="M864 528.4H858.3M860.9 525.9L858.3 528.4L860.9 530.9" stroke="#222" stroke-width="1" fill="none"/>
</svg>

<div id="ct" style="position:absolute;left:0;top:0;width:960px;height:564px;will-change:transform;">
<span class="t m10" style="left:-3px;top:69.5px;color:#3a3a3a;">Buy <span style="color:#1a4bff">375</span> BTC will cost <span style="color:#008a00">2733891</span> USD and price will reach <span style="color:#008a00">7347.9</span> (+1.62%).</span>
<span class="t m10" style="left:-3px;top:81.5px;color:#3a3a3a;">Sell <span style="color:#1a4bff">375</span> BTC will receive <span style="color:#ff0000">2685760</span> USD and price will reach <span style="color:#ff0000">7110.0</span> (-1.67%).</span>
<span class="t m10" style="left:-3px;top:93.5px;color:#3a3a3a;">The average price of cost and receive is <span style="color:#777">7228.3</span> USD/BTC.</span>
<span class="t m10" style="left:896px;top:143px;color:#666;">7200</span>
<span class="t m10" style="left:896px;top:195px;color:#666;">7000</span>
<span class="t m10" style="left:896px;top:247px;color:#666;">6800</span>
<span class="t m10" style="left:896px;top:299px;color:#666;">6600</span>
<span class="t m10" style="left:896px;top:350px;color:#666;">6400</span>
<span class="t m10" style="left:896px;top:402px;color:#666;">6200</span>
<span class="t m10" style="left:896px;top:464px;color:#666;">1000</span>
<span class="t m10" style="left:899px;top:497px;color:#666;">500</span>
<span class="t m10" style="left:905px;top:531px;color:#bbb;">0</span>
<span class="t m10" style="left:858px;top:525px;color:#222;"><span style="visibility:hidden">&#8592;</span> 79.71</span>
<span class="t m10" style="left:119px;top:373px;color:#333;"><span style="visibility:hidden">&#8592;</span> 6310</span>
<span class="t m10" style="left:769px;top:121.5px;color:#333;">7275.2</span>
<svg width="70" height="30" viewBox="795 117 70 30" style="position:absolute;left:795px;top:117px;"><path d="M811.5 125.5H817.5M815 123L817.5 125.5L815 128" stroke="#333" stroke-width="1" fill="none"/><path d="M798.5 121.5H851L855.8 131.8L851 142.2H798.5Z" fill="#fff" fill-opacity="0.82" stroke="#777" stroke-width="1"/></svg>
<span class="t m" style="left:806.5px;top:127px;font-size:12px;letter-spacing:-0.6px;text-rendering:geometricPrecision;color:#666;">7252.9</span>
<span class="t m10" style="left:22.5px;top:548px;color:#777;width:60px;text-align:center;">18</span>
<span class="t m10 b" style="left:118.5px;top:548px;color:#777;width:60px;text-align:center;letter-spacing:0.25px;">Nov 14</span>
<span class="t m10" style="left:214.5px;top:548px;color:#777;width:60px;text-align:center;">6</span>
<span class="t m10" style="left:310.5px;top:548px;color:#777;width:60px;text-align:center;">12</span>
<span class="t m10" style="left:406.5px;top:548px;color:#777;width:60px;text-align:center;">18</span>
<span class="t m10 b" style="left:502.5px;top:548px;color:#777;width:60px;text-align:center;letter-spacing:0.25px;">Nov 15</span>
<span class="t m10" style="left:598.5px;top:548px;color:#777;width:60px;text-align:center;">6</span>
<span class="t m10" style="left:694.5px;top:548px;color:#777;width:60px;text-align:center;">12</span>
<span class="t m10" style="left:790.5px;top:548px;color:#777;width:60px;text-align:center;">18</span>
<span class="t" style="left:898.5px;top:547.3px;font-size:10px;color:#777;letter-spacing:-0.1px;text-rendering:geometricPrecision;">Now</span>
<span class="t m" style="left:922px;top:546.5px;font-size:12px;letter-spacing:-0.6px;text-rendering:geometricPrecision;color:#666;">1:00</span>
</div>
</body></html>
